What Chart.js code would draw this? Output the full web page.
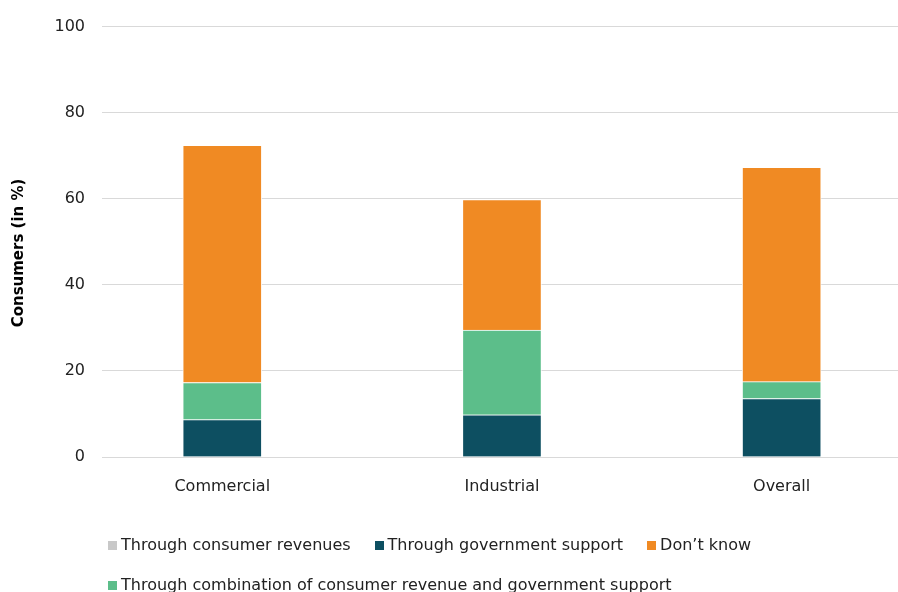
<!DOCTYPE html>
<html>
<head>
<meta charset="utf-8">
<script src="https://cdn.jsdelivr.net/npm/chart.js@4.4.0/dist/chart.umd.min.js"></script>
<style>
  html, body { margin: 0; padding: 0; background: #fff; overflow: hidden; }
  #wrap { position: relative; width: 898px; height: 592px; }
  #legend {
    position: absolute; left: 108px; top: 535px; width: 720px;
    display: flex; flex-wrap: wrap; column-gap: 24px; row-gap: 20px;
    font: 16px "DejaVu Sans", sans-serif; color: #222; line-height: 20px;
  }
  .item { display: flex; align-items: center; white-space: nowrap; }
  .swatch { width: 9px; height: 9px; margin-right: 4px; }
</style>
</head>
<body>
<div id="wrap">
  <canvas id="chart" width="898" height="592"></canvas>
  <div id="legend"></div>
</div>
<script>
// Share of consumers by funding route, per segment
const categories = ['Commercial', 'Industrial', 'Overall'];
const consumerRevenues = [0, 0, 0];
const governmentSupport = [8.7, 9.8, 13.6];
const combination = [8.6, 19.7, 3.9];
const dontKnow = [55.1, 30.3, 49.8];
const yTicks = [0, 20, 40, 60, 80, 100];
const yTitle = 'Consumers (in %)';

const FONT = '"DejaVu Sans", sans-serif';
const TEXT = '#222';

// stacking order, bottom to top
const series = [
  { label: 'Through consumer revenues', values: consumerRevenues, color: '#C8C8C8' },
  { label: 'Through government support', values: governmentSupport, color: '#0D4F61' },
  { label: 'Through combination of consumer revenue and government support', values: combination, color: '#5CBE8A' },
  { label: 'Don\u2019t know', values: dontKnow, color: '#F08A23' }
];

// legend reads in a different order than the stack
const legendOrder = [0, 1, 3, 2];

const datasets = series.map(s => ({
  label: s.label,
  data: s.values.map((v, i) => ({ x: i, y: v })),
  backgroundColor: s.color,
  borderColor: 'rgba(255,255,255,0.85)',
  borderWidth: 1,
  barThickness: 79
}));

// axis title sits a little below the axis middle, so draw it by hand
const yTitlePlugin = {
  id: 'yTitle',
  afterDraw(chart) {
    const ctx = chart.ctx;
    ctx.save();
    ctx.translate(19, 253);
    ctx.rotate(-Math.PI / 2);
    ctx.font = 'bold 15px ' + FONT;
    ctx.fillStyle = '#000';
    ctx.textAlign = 'center';
    ctx.textBaseline = 'middle';
    ctx.fillText(yTitle, 0, 0);
    ctx.restore();
  }
};

new Chart(document.getElementById('chart'), {
  type: 'bar',
  data: { datasets },
  plugins: [yTitlePlugin],
  options: {
    responsive: false,
    animation: false,
    layout: { padding: { top: 25, bottom: 97, left: 0, right: 0 } },
    plugins: { legend: { display: false }, tooltip: { enabled: false } },
    scales: {
      x: {
        type: 'linear',
        stacked: true,
        offset: false,
        min: -0.43,
        max: 2.416,
        afterBuildTicks: s => { s.ticks = categories.map((c, i) => ({ value: i })); },
        afterFit: s => { s.height = 38; },
        grid: { display: false, drawTicks: false },
        border: { display: false },
        ticks: {
          padding: 20,
          maxRotation: 0,
          color: TEXT,
          font: { family: FONT, size: 16 },
          callback: v => categories[v]
        }
      },
      y: {
        stacked: true,
        min: 0,
        max: 100,
        afterBuildTicks: s => { s.ticks = yTicks.map(v => ({ value: v })); },
        afterFit: s => { s.width = 102; },
        grid: { color: '#D9D9D9', lineWidth: 1, drawTicks: false },
        border: { display: false },
        ticks: { padding: 17, color: TEXT, font: { family: FONT, size: 16 } }
      }
    }
  }
});

const legend = document.getElementById('legend');
legendOrder.forEach(idx => {
  const s = series[idx];
  const item = document.createElement('div');
  item.className = 'item';
  item.innerHTML = '<span class="swatch" style="background:' + s.color + '"></span><span>' + s.label + '</span>';
  legend.appendChild(item);
});
</script>
</body>
</html>
